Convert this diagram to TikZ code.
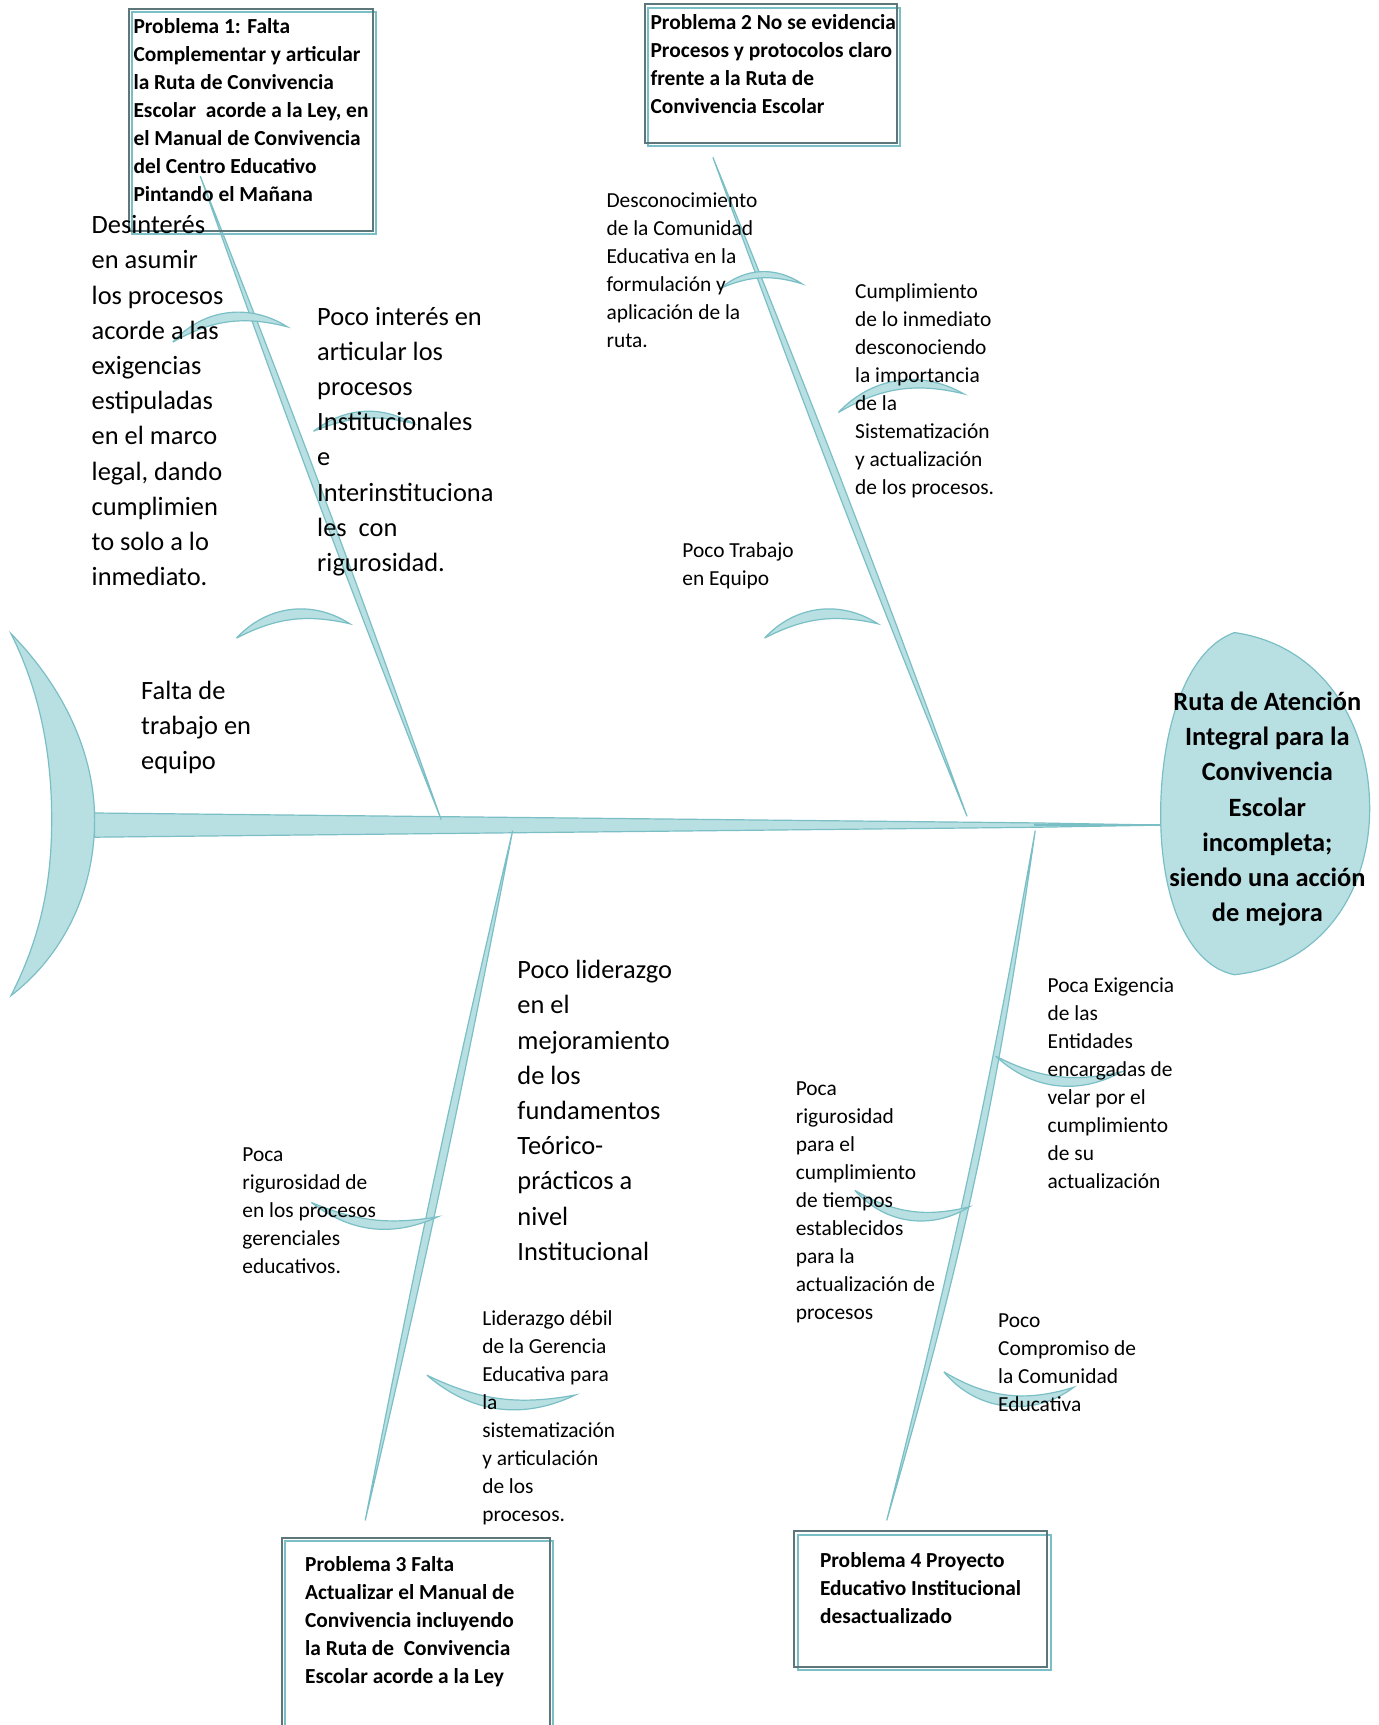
\documentclass[tikz,border=0pt]{standalone}
\usepackage{fontspec}
\setmainfont{Carlito}
\definecolor{ribfill}{RGB}{184,223,226}
\definecolor{ribline}{RGB}{122,191,197}
\definecolor{boxline}{RGB}{92,118,122}

\begin{document}
\begin{tikzpicture}[x=0.55pt,y=-0.55pt,
  rib/.style={fill=ribfill, draw=ribline, line width=0.6pt},
  framebox/.style={draw=boxline, line width=1.1pt},
  frameteal/.style={draw=ribline, line width=1.1pt},
  txt/.style={align=left, inner sep=0pt, anchor=north west, yshift=7pt, execute at begin node=\strut, font=\fontsize{10.7}{14}\selectfont},
  bigtxt/.style={align=left, inner sep=0pt, anchor=north west, yshift=9.6pt, execute at begin node=\strut, font=\fontsize{13.2}{17.6}\selectfont},
  boldtxt/.style={txt, font=\bfseries\fontsize{10.7}{14}\selectfont}]

\useasboundingbox (0,0) rectangle (1253,1568);

\coordinate (tail) at (86,750);
\coordinate (head) at (1056,750);
\coordinate (b1top) at (182,160);  \coordinate (b1end) at (401,745);
\coordinate (b2top) at (648,143);  \coordinate (b2end) at (879,742);
\coordinate (b3top) at (466,755);  \coordinate (b3end) at (332,1382);
\coordinate (b4top) at (941,755);  \coordinate (b4end) at (806,1382);

% cola y espina
\draw[rib] (10,576) .. controls (58,625) and (86,685) .. (86,745) .. controls (86,810) and (58,868) .. (10,905)
  .. controls (38,850) and (47,800) .. (47,745) .. controls (47,690) and (38,632) .. (10,576) -- cycle;
\draw[rib] (86,739) -- (940,748) -- (head) -- (940,752) -- (86,761) -- cycle;
\draw[ribline, line width=0.8pt] (940,750) -- (head);

% cabeza
\draw[rib] (1122,575) .. controls (1075,592) and (1055,670) .. (1055,740) .. controls (1055,822) and (1082,878) .. (1122,886)
  .. controls (1200,878) and (1245,812) .. (1245,735) .. controls (1245,655) and (1200,586) .. (1122,575) -- cycle;

% espinas
\draw[rib] (b1top) to[bend left=1] (b1end) to[bend left=1] (b1top);
\draw[rib] (b2top) to[bend left=1] (b2end) to[bend left=1] (b2top);
\draw[rib] (b3top) to[bend left=1.1] (b3end) to[bend left=1.1] (b3top);
\draw[rib] (b4top) to[bend left=4] (b4end) to[bend right=2] (b4top);

% costillas
\draw[rib] (157,311) to[bend left=40] (261,297) to[bend right=22] (157,311);
\draw[rib] (285,392) to[bend left=33] (376,385) to[bend right=18] (285,392);
\draw[rib] (215,580) to[bend left=40] (318,567) to[bend right=20] (215,580);
\draw[rib] (655,262) to[bend left=37] (729,258) to[bend right=20] (655,262);
\draw[rib] (762,375) to[bend left=38] (876,358) to[bend right=22] (762,375);
\draw[rib] (695,580) to[bend left=40] (798,567) to[bend right=20] (695,580);
\draw[rib] (283,1093) to[bend right=31] (398,1106) to[bend left=16] (283,1093);
\draw[rib] (388,1250) to[bend right=33] (523,1268) to[bend left=18] (388,1250);
\draw[rib] (905,960) to[bend right=36] (1020,974) to[bend left=20] (905,960);
\draw[rib] (777,1082) to[bend right=40] (881,1097) to[bend left=22] (777,1082);
\draw[rib] (858,1247) to[bend right=44] (976,1261) to[bend left=24] (858,1247);

% recuadros de problemas
\draw[frameteal] (120,11) rectangle (342,213);
\draw[framebox] (117,8) rectangle (339,210);
\draw[frameteal] (589,7) rectangle (818,133);
\draw[framebox] (586,4) rectangle (815,130);
\draw[frameteal] (259,1401) rectangle (503,1580);
\draw[framebox] (256,1398) rectangle (500,1580);
\draw[frameteal] (725,1395) rectangle (955,1518);
\draw[framebox] (722,1392) rectangle (952,1515);

\node[boldtxt] (prob1) at (121,29.4) {Problema 1: Falta\\Complementar y articular\\la Ruta de Convivencia\\Escolar\ \ acorde a la Ley, en\\el Manual de Convivencia\\del Centro Educativo\\Pintando el Mañana};
\node[boldtxt] (prob2) at (591,25.4) {Problema 2 No se evidencia\\Procesos y protocolos claro\\frente a la Ruta de\\Convivencia Escolar};
\node[boldtxt] (prob3) at (277,1427.4) {Problema 3 Falta\\Actualizar el Manual de\\Convivencia incluyendo\\la Ruta de\ \ Convivencia\\Escolar acorde a la Ley};
\node[boldtxt] (prob4) at (745,1423.4) {Problema 4 Proyecto\\Educativo Institucional\\desactualizado};

\node[align=center, inner sep=0pt, anchor=north, yshift=9.6pt, execute at begin node=\strut, font=\bfseries\fontsize{13.2}{17.6}\selectfont] (efecto) at (1152,646)
  {Ruta de Atención\\Integral para la\\Convivencia\\Escolar\\incompleta;\\siendo una acción\\de mejora};

% causas
\node[bigtxt] (desinteres) at (83,213) {Desinterés\\en asumir\\los procesos\\acorde a las\\exigencias\\estipuladas\\en el marco\\legal, dando\\cumplimien\\to solo a lo\\inmediato.};
\node[bigtxt] (pocointeres) at (288,296) {Poco interés en\\articular los\\procesos\\Institucionales\\e\\Interinstituciona\\les\ \ con\\rigurosidad.};
\node[bigtxt] (faltatrabajo) at (128,636) {Falta de\\trabajo en\\equipo};
\node[bigtxt] (liderazgo) at (470,890) {Poco liderazgo\\en el\\mejoramiento\\de los\\fundamentos\\Teórico-\\prácticos a\\nivel\\Institucional};
\node[txt] (desconoc) at (551,187.4) {Desconocimiento\\de la Comunidad\\Educativa en la\\formulación y\\aplicación de la\\ruta.};
\node[txt] (cumplim) at (777,270.4) {Cumplimiento\\de lo inmediato\\desconociendo\\la importancia\\de la\\Sistematización\\y actualización\\de los procesos.};
\node[txt] (trabajo) at (620,505.4) {Poco Trabajo\\en Equipo};
\node[txt] (rigorger) at (220,1055.4) {Poca\\rigurosidad de\\en los procesos\\gerenciales\\educativos.};
\node[txt] (debil) at (438,1203.4) {Liderazgo débil\\de la Gerencia\\Educativa para\\la\\sistematización\\y articulación\\de los\\procesos.};
\node[txt] (exigencia) at (952,901.4) {Poca Exigencia\\de las\\Entidades\\encargadas de\\velar por el\\cumplimiento\\de su\\actualización};
\node[txt] (rigortiempo) at (723,995.4) {Poca\\rigurosidad\\para el\\cumplimiento\\de tiempos\\establecidos\\para la\\actualización de\\procesos};
\node[txt] (compromiso) at (907,1206.4) {Poco\\Compromiso de\\la Comunidad\\Educativa};

\end{tikzpicture}
\end{document}
